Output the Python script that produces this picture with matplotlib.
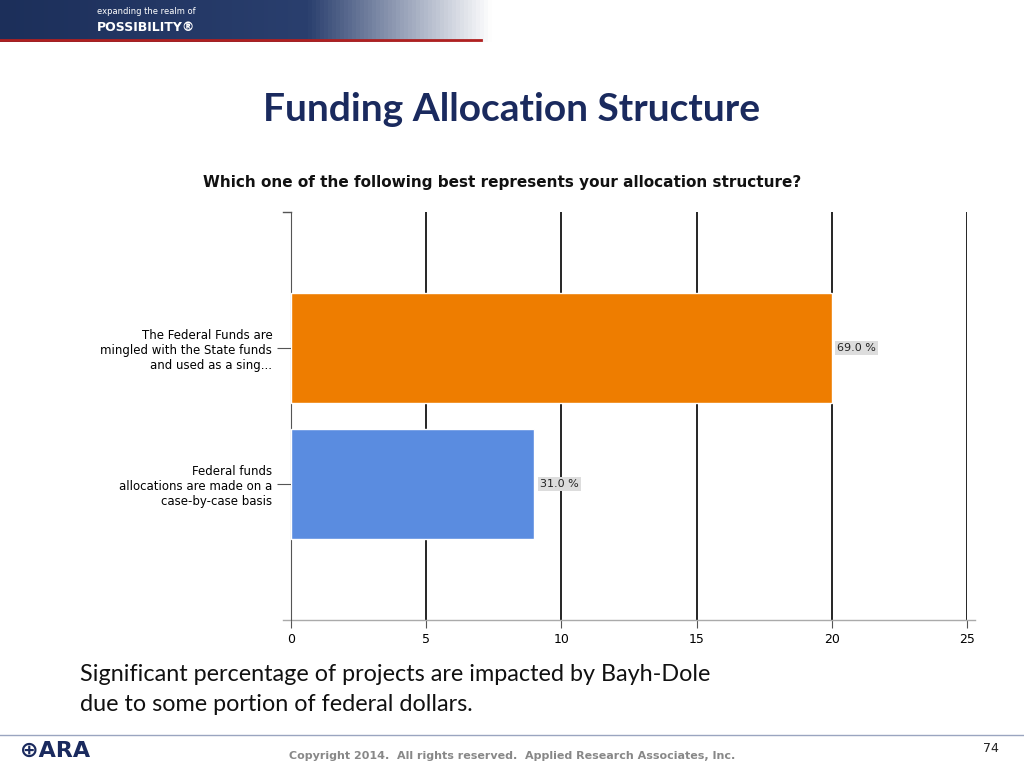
import matplotlib
matplotlib.use("Agg")
import matplotlib.pyplot as plt
import numpy as np
from matplotlib.colors import LinearSegmentedColormap

categories = ["Federal funds\nallocations are made on a\ncase-by-case basis",
              "The Federal Funds are\nmingled with the State funds\nand used as a sing..."]
values = [9, 20]
pct_labels = ["31.0 %", "69.0 %"]
colors = ["#5a8ce0", "#ee7d00"]
xticks = [0, 5, 10, 15, 20, 25]

fig = plt.figure(figsize=(10.24, 7.68), dpi=100)
fig.patch.set_facecolor("white")

hdr = fig.add_axes([0, 0.945, 1, 0.055])
grad = np.linspace(0, 1, 256).reshape(1, -1)
cm = LinearSegmentedColormap.from_list("h", [(0, "#1c2f5a"), (0.3, "#2a3f6e"), (0.48, "#ffffff"), (1, "#ffffff")])
hdr.imshow(grad, aspect="auto", cmap=cm, extent=[0, 1, 0, 1])
hdr.axhline(0.05, xmin=0, xmax=0.47, color="#b02020", lw=2)
hdr.set_xlim(0, 1); hdr.set_ylim(0, 1); hdr.axis("off")
hdr.text(0.095, 0.72, "expanding the realm of", color="white", fontsize=6, va="center")
hdr.text(0.095, 0.35, "POSSIBILITY®", color="white", fontsize=9, fontweight="bold", va="center")

fig.text(0.5, 0.858, "Funding Allocation Structure", ha="center", va="center",
         fontsize=28, fontweight="bold", color="#1a2a5e", family="Lato")
fig.text(0.49, 0.763, "Which one of the following best represents your allocation structure?",
         ha="center", va="center", fontsize=11, fontweight="bold", color="#111111")

ax = fig.add_axes([291/1024, 1-620/768, 676/1024, 408/768])
y = np.arange(len(values))
ax.barh(y, values, height=0.81, color=colors, edgecolor="white", lw=1, zorder=3)
for yi, v, lab in zip(y, values, pct_labels):
    ax.text(v + 0.2, yi, lab, va="center", ha="left", fontsize=8, color="#222222",
            bbox=dict(facecolor="#dddddd", edgecolor="none", pad=1.5), zorder=4)
ax.set_xlim(0, 25)
ax.set_ylim(-1, 2)
ax.set_xticks(xticks)
ax.set_xticklabels([str(t) for t in xticks], fontsize=9)
ax.set_yticks(y)
ax.set_yticklabels(categories, fontsize=8.5, ha="right")
for t in xticks[1:]:
    ax.axvline(t, color="black", lw=1.2, zorder=1)
for s in ["top", "right", "bottom"]:
    ax.spines[s].set_visible(False)
ax.spines["left"].set_color("#555555")
ax.tick_params(axis="x", length=6, color="#555555", direction="out")
ax.tick_params(axis="y", length=10, color="#555555")
ax.plot([-0.3, 0], [2, 2], color="#555555", lw=1, clip_on=False)
ax.plot([-0.3, 25.3], [-1, -1], color="#aaaaaa", lw=1, clip_on=False)

fig.text(0.078, 0.122, "Significant percentage of projects are impacted by Bayh-Dole",
         fontsize=16.8, color="#111111", va="center", family="Lato")
fig.text(0.078, 0.083, "due to some portion of federal dollars.",
         fontsize=16.8, color="#111111", va="center", family="Lato")

fig.add_artist(plt.Line2D([0, 1], [0.043, 0.043], color="#9aa5c0", lw=1))
fig.text(0.02, 0.022, "⊕ARA", fontsize=16, fontweight="bold", color="#1a2a5e", va="center")
fig.text(0.5, 0.015, "Copyright 2014.  All rights reserved.  Applied Research Associates, Inc.",
         ha="center", va="center", fontsize=8, fontweight="bold", color="#888888")
fig.text(0.968, 0.025, "74", ha="center", va="center", fontsize=9, color="#222222")

fig.savefig("out.png", dpi=100)
